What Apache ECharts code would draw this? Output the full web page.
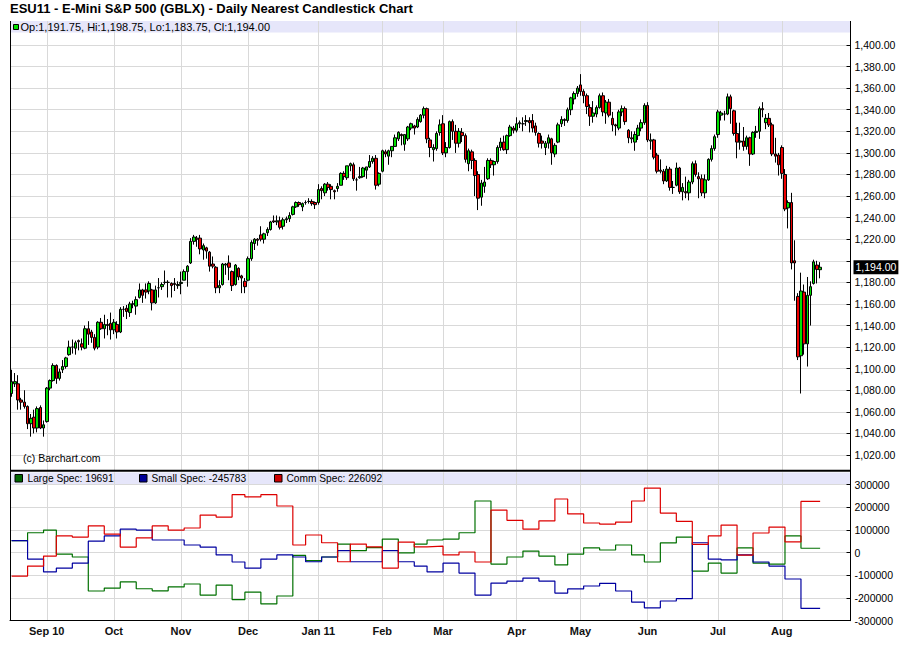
<!DOCTYPE html>
<html>
<head>
<meta charset="utf-8">
<title>ESU11 - E-Mini S&amp;P 500 (GBLX)</title>
<script src="https://cdn.jsdelivr.net/npm/echarts/dist/echarts.min.js"></script>
<style>
  html, body { margin: 0; padding: 0; background: #fff; }
  #chart { width: 900px; height: 662px; }
</style>
</head>
<body>
<div id="chart"></div>
<script>
  // ---- data ----
  var titleText = 'ESU11 - E-Mini S&P 500 (GBLX) - Daily Nearest Candlestick Chart';
  var monthNames = ['Jan','Feb','Mar','Apr','May','Jun','Jul','Aug','Sep','Oct','Nov','Dec'];
  // exchange holidays inside the range
  var holidays = ['2010-09-06','2010-11-25','2010-12-24','2011-01-17','2011-02-21','2011-04-22','2011-05-30','2011-07-04'];
  var firstDay = '2010-08-17';
  var emptySlots = 9; // free room on the right of the last candle

  // daily candles [open, close, low, high]
  var ohlc = [
    // Aug 2010
    [1077,1088,1074,1099],[1086,1088,1083,1096],[1086,1071,1062,1094],[1071,1069,1062,1073],[1069,1065,1063,1080],
    [1065,1049,1044,1066],[1049,1054,1037,1058],[1055,1045,1040,1062],[1045,1063,1041,1065],[1064,1045,1044,1066],
    [1045,1048,1037,1052],
    // Sep
    [1051,1082,1050,1083],[1082,1089,1080,1090],[1089,1103,1088,1105],[1103,1091,1086,1104],[1091,1097,1089,1100],
    [1099,1102,1096,1108],[1102,1110,1100,1111],[1113,1120,1112,1126],[1120,1120,1114,1127],[1119,1124,1113,1126],
    [1126,1125,1117,1127],[1123,1120,1117,1128],[1119,1137,1118,1140],[1137,1132,1122,1144],[1134,1129,1124,1136],
    [1129,1119,1117,1132],[1120,1143,1118,1144],[1143,1137,1136,1147],[1137,1141,1128,1150],[1141,1140,1131,1146],
    [1142,1136,1127,1152],
    // Oct
    [1136,1143,1132,1146],[1141,1134,1128,1144],[1134,1155,1133,1157],[1155,1155,1148,1158],[1156,1153,1146,1159],
    [1152,1160,1148,1162],[1160,1160,1156,1163],[1158,1164,1150,1167],[1166,1173,1165,1179],[1173,1168,1161,1174],
    [1173,1171,1165,1179],[1172,1179,1169,1181],[1173,1161,1154,1174],[1161,1173,1160,1177],[1175,1175,1166,1184],
    [1176,1178,1173,1180],[1180,1180,1178,1191],[1180,1180,1166,1182],[1179,1177,1166,1180],[1179,1178,1172,1184],
    [1177,1178,1174,1181],
    // Nov
    [1179,1180,1169,1190],[1182,1190,1182,1192],[1190,1195,1176,1196],[1198,1218,1197,1221],[1218,1222,1215,1224],
    [1221,1220,1213,1223],[1221,1211,1206,1224],[1210,1214,1201,1216],[1212,1209,1202,1213],[1208,1195,1190,1209],
    [1197,1195,1193,1204],[1194,1175,1170,1195],[1175,1177,1170,1182],[1178,1197,1177,1198],[1196,1197,1187,1198],
    [1198,1194,1182,1205],[1190,1177,1172,1191],[1178,1196,1177,1197],[1193,1185,1182,1194],[1186,1184,1170,1187],
    [1181,1176,1170,1184],
    // Dec
    [1182,1202,1181,1204],[1202,1217,1200,1219],[1216,1220,1210,1221],[1220,1219,1214,1221],[1224,1220,1218,1232],
    [1220,1225,1216,1226],[1226,1229,1223,1231],[1229,1236,1228,1237],[1237,1236,1235,1242],[1236,1237,1233,1242],
    [1237,1231,1229,1241],[1232,1238,1229,1240],[1238,1239,1235,1241],[1239,1242,1236,1245],[1243,1250,1242,1251],
    [1250,1254,1249,1255],[1254,1252,1250,1255],[1250,1253,1246,1254],[1254,1254,1252,1256],[1255,1255,1253,1258],
    [1255,1253,1251,1257],[1254,1252,1248,1255],
    // Jan 2011
    [1254,1266,1252,1271],[1267,1265,1257,1269],[1263,1271,1260,1272],[1271,1268,1265,1273],[1269,1266,1257,1271],
    [1265,1264,1257,1266],[1267,1269,1264,1272],[1270,1281,1270,1282],[1281,1278,1275,1283],[1277,1288,1275,1288],
    [1288,1290,1283,1291],[1289,1276,1274,1291],[1275,1275,1265,1277],[1277,1278,1276,1287],[1278,1286,1277,1287],
    [1284,1287,1276,1287],[1287,1292,1286,1298],[1292,1295,1290,1297],[1295,1270,1266,1298],[1271,1281,1269,1282],
    // Feb
    [1283,1302,1282,1303],[1301,1299,1296,1303],[1297,1302,1289,1303],[1302,1306,1296,1306],[1306,1314,1306,1317],
    [1313,1319,1311,1320],[1317,1316,1307,1318],[1308,1317,1302,1317],[1313,1324,1311,1325],[1323,1327,1321,1328],
    [1325,1323,1317,1326],[1324,1331,1323,1333],[1329,1335,1328,1336],[1335,1341,1332,1343],[1341,1313,1309,1342],
    [1312,1305,1296,1314],[1303,1305,1292,1308],[1304,1318,1302,1320],[1319,1326,1316,1331],
    // Mar
    [1327,1300,1298,1335],[1300,1305,1296,1310],[1305,1329,1304,1330],[1329,1320,1312,1331],[1320,1309,1300,1326],
    [1309,1320,1305,1323],[1319,1316,1310,1323],[1316,1294,1291,1318],[1290,1302,1283,1304],[1301,1293,1285,1303],
    [1293,1279,1260,1295],[1280,1258,1247,1283],[1259,1272,1251,1275],[1269,1273,1263,1287],[1276,1293,1275,1295],
    [1293,1289,1286,1295],[1289,1292,1279,1293],[1292,1305,1290,1307],[1305,1310,1302,1314],[1310,1303,1302,1316],
    [1303,1316,1299,1317],[1316,1324,1315,1326],[1323,1321,1318,1325],
    // Apr
    [1321,1327,1319,1333],[1327,1328,1323,1330],[1327,1327,1320,1333],[1329,1330,1325,1335],[1330,1328,1319,1333],
    [1330,1323,1319,1336],[1325,1319,1316,1328],[1318,1309,1305,1319],[1311,1309,1304,1316],[1305,1309,1298,1311],
    [1309,1314,1304,1317],[1313,1300,1289,1314],[1299,1307,1296,1309],[1310,1326,1309,1328],[1327,1331,1324,1334],
    [1331,1330,1325,1332],[1330,1340,1328,1342],[1340,1351,1335,1352],[1350,1355,1345,1357],[1355,1360,1352,1362],
    // May
    [1363,1357,1353,1373],[1357,1353,1346,1359],[1353,1343,1336,1355],[1342,1334,1325,1345],[1334,1337,1328,1348],
    [1336,1342,1333,1344],[1342,1353,1341,1355],[1353,1338,1334,1356],[1337,1347,1327,1349],[1347,1335,1333,1350],
    [1332,1326,1320,1338],[1326,1325,1316,1327],[1323,1338,1321,1340],[1338,1341,1334,1344],[1341,1329,1326,1343],
    [1321,1314,1309,1322],[1314,1313,1309,1320],[1310,1317,1302,1320],[1316,1323,1312,1326],[1323,1328,1320,1331],
    [1328,1344,1326,1346],
    // Jun
    [1344,1312,1310,1347],[1311,1312,1303,1318],[1312,1296,1294,1313],[1298,1283,1281,1300],[1284,1283,1281,1294],
    [1283,1274,1271,1285],[1274,1285,1273,1288],[1285,1268,1265,1287],[1268,1268,1262,1274],[1270,1286,1269,1291],
    [1286,1264,1262,1287],[1264,1268,1256,1272],[1264,1263,1258,1278],[1263,1273,1256,1275],[1273,1290,1271,1292],
    [1290,1280,1278,1293],[1278,1276,1258,1282],[1276,1263,1260,1280],[1263,1275,1258,1280],[1275,1294,1274,1295],
    [1294,1304,1292,1307],[1304,1315,1302,1317],
    // Jul
    [1317,1338,1314,1340],[1335,1337,1330,1339],[1336,1336,1330,1339],[1336,1352,1335,1355],[1352,1341,1327,1354],
    [1339,1318,1316,1340],[1318,1310,1295,1328],[1310,1311,1303,1328],[1311,1306,1302,1324],[1306,1314,1303,1316],
    [1314,1299,1288,1315],[1299,1319,1298,1320],[1319,1320,1314,1325],[1320,1341,1313,1343],[1341,1340,1333,1347],
    [1328,1332,1322,1336],[1332,1326,1324,1337],[1326,1299,1297,1328],[1299,1297,1291,1314],[1298,1289,1279,1300],
    // Aug
    [1305,1281,1276,1307],[1280,1248,1246,1285],[1249,1254,1230,1256],[1254,1198,1192,1263],[1200,1198,1163,1219],
    [1167,1111,1108,1170],[1112,1172,1077,1189],[1171,1123,1113,1178],[1123,1168,1102,1185],[1168,1176,1140,1181],
    [1179,1199,1178,1201],[1196,1192,1179,1200],[1191.75,1194,1183.75,1198.75]
  ];

  // weekly commitment of traders (net positions), as-of Tuesdays
  var cotWeeks = [
    '2010-08-17','2010-08-24','2010-08-31','2010-09-07','2010-09-14','2010-09-21','2010-09-28','2010-10-05',
    '2010-10-12','2010-10-19','2010-10-26','2010-11-02','2010-11-09','2010-11-16','2010-11-23','2010-11-30',
    '2010-12-07','2010-12-14','2010-12-21','2010-12-28','2011-01-04','2011-01-11','2011-01-18','2011-01-25',
    '2011-02-01','2011-02-08','2011-02-15','2011-02-22','2011-03-01','2011-03-08','2011-03-15','2011-03-22',
    '2011-03-29','2011-04-05','2011-04-12','2011-04-19','2011-04-26','2011-05-03','2011-05-10','2011-05-17',
    '2011-05-24','2011-05-31','2011-06-07','2011-06-14','2011-06-21','2011-06-28','2011-07-05','2011-07-12',
    '2011-07-19','2011-07-26','2011-08-02','2011-08-09'
  ];
  var largeSpec = [
    53000,88000,100000,-6000,-19000,-169000,-156000,-129000,-159000,-168000,-151000,-138000,-187000,-143000,
    -207000,-174000,-226000,-191000,-12000,-35000,-19000,38000,9000,22000,60000,-1000,38000,56000,60000,
    88000,228000,-50000,-19000,7000,-15000,-54000,-6000,21000,12000,34000,-10000,-41000,43000,69000,
    -81000,-46000,-90000,21000,-46000,-50000,74000,19691
  ];
  var smallSpec = [
    53000,-28000,-85000,-68000,-46000,51000,74000,104000,100000,56000,56000,34000,25000,-10000,
    -41000,-68000,-28000,-10000,-19000,-40000,-19000,9000,-40000,-40000,9000,-40000,-59000,-85000,-46000,
    -90000,-187000,-134000,-125000,-112000,-125000,-178000,-160000,-147000,-135000,-169000,-218000,-243000,-213000,-203000,
    44000,-28000,-32000,-10000,-41000,-59000,-116000,-245783
  ];
  var commSpec = [
    -103000,-59000,-15000,74000,69000,118000,82000,25000,65000,118000,100000,109000,166000,157000,
    256000,246000,256000,206000,34000,78000,44000,-40000,38000,26000,-68000,47000,26000,29000,-10000,
    3000,-41000,188000,143000,104000,140000,237000,171000,131000,126000,135000,228000,285000,175000,138000,
    37000,74000,122000,-11000,87000,113000,48000,226092
  ];

  // ---- trading calendar ----
  function ymd(d) { return d.toISOString().slice(0, 10); }
  var dates = [];
  var day = new Date(firstDay + 'T00:00:00Z');
  while (dates.length < ohlc.length + emptySlots) {
    var wd = day.getUTCDay();
    var s = ymd(day);
    if (wd !== 0 && wd !== 6 && holidays.indexOf(s) < 0) dates.push(s);
    day.setUTCDate(day.getUTCDate() + 1);
  }
  var lastDate = dates[ohlc.length - 1];
  function isMonthStart(i) { return i > 0 && dates[i].slice(5, 7) !== dates[i - 1].slice(5, 7); }
  var firstMonthIdx = 1;
  while (!isMonthStart(firstMonthIdx)) firstMonthIdx++;

  function fmt2(v) { return v.toFixed(2).replace(/\B(?=(\d{3})+(?!\d))/g, ','); }

  var last = ohlc[ohlc.length - 1];
  var lastClose = last[1];

  function stepData(values) {
    var out = cotWeeks.map(function (d, i) { return [dates.indexOf(d), values[i]]; });
    out.push([dates.indexOf(lastDate), values[values.length - 1]]);
    return out;
  }

  // ---- layout ----
  var L = 10, R = 49.5;            // plot left / right gap
  var FONT = '"Liberation Sans", Arial, Helvetica, sans-serif';
  var GRID_C = '#d9d9d9';
  var BAND_C = '#e6e6fa';
  var UP_C = '#00e000', DOWN_C = '#ee0000';
  var LARGE_C = '#007000', SMALL_C = '#0000a0', COMM_C = '#dd0000';

  function frameAxis(gi) {
    return {
      type: 'category', gridIndex: gi, data: dates, boundaryGap: true,
      axisLine: { show: false }, axisTick: { show: false }, axisLabel: { show: false },
      splitLine: {
        show: true, alignWithLabel: true,
        interval: function (i) { return isMonthStart(i); },
        lineStyle: { color: GRID_C, width: 1 }
      }
    };
  }

  var myChart = echarts.init(document.getElementById('chart'), null, { renderer: 'svg' });
  var option = {
    animation: false,
    backgroundColor: '#fff',
    textStyle: { fontFamily: FONT },
    grid: [
      { left: L, right: R, top: 45, bottom: 662 - 455, outerBoundsMode: 'none' },
      { left: L, right: R, top: 484.7, bottom: 662 - 620.7, outerBoundsMode: 'none' },
      { left: L, right: R, top: 21, bottom: 662 - 470, outerBoundsMode: 'none' },
      { left: L, right: R, top: 472.5, bottom: 662 - 620.7, outerBoundsMode: 'none' }
    ],
    xAxis: [
      {
        type: 'category', gridIndex: 0, data: dates, boundaryGap: true,
        axisLine: { show: false }, axisTick: { show: false }, axisLabel: { show: false }, splitLine: { show: false }
      },
      {
        type: 'category', gridIndex: 1, data: dates, boundaryGap: true,
        axisLine: { show: true, onZero: false, lineStyle: { color: '#000', width: 1 } },
        axisTick: { show: false },
        splitLine: { show: false },
        axisLabel: {
          show: true, margin: 5, color: '#111', fontSize: 11, fontWeight: 'bold', fontFamily: FONT,
          interval: function (i) { return isMonthStart(i); },
          formatter: function (val, i) {
            var m = +val.slice(5, 7) - 1;
            return (m === 0 || i === firstMonthIdx) ? monthNames[m] + ' ' + val.slice(2, 4) : monthNames[m];
          }
        }
      },
      frameAxis(2),
      frameAxis(3)
    ],
    yAxis: [
      {
        type: 'value', gridIndex: 0, position: 'right', min: 1020, max: 1400, interval: 20,
        axisLine: { show: true, lineStyle: { color: '#000' } },
        axisTick: { show: true, inside: true, length: 4, lineStyle: { color: '#000' } },
        axisLabel: {
          color: '#000', fontSize: 10.5, margin: 4, fontFamily: FONT,
          formatter: function (v) { return Math.abs(v - lastClose) < 10 ? '' : fmt2(v); }
        },
        splitLine: { show: true, lineStyle: { color: GRID_C, width: 1 } }
      },
      {
        type: 'value', gridIndex: 1, position: 'right', min: -300000, max: 300000, interval: 100000,
        axisLine: { show: true, lineStyle: { color: '#000' } },
        axisTick: { show: true, inside: true, length: 4, lineStyle: { color: '#000' } },
        axisLabel: { color: '#000', fontSize: 10.5, margin: 4, fontFamily: FONT, formatter: function (v) { return String(v); } },
        splitLine: { show: true, lineStyle: { color: GRID_C, width: 1 } }
      },
      { type: 'value', gridIndex: 2, show: false },
      { type: 'value', gridIndex: 3, show: false }
    ],
    series: [
      {
        name: 'ESU11', type: 'candlestick', xAxisIndex: 0, yAxisIndex: 0,
        data: ohlc, barWidth: 3, clip: false,
        itemStyle: {
          color: UP_C, color0: DOWN_C,
          borderColor: '#000', borderColor0: '#000', borderColorDoji: '#000', borderWidth: 1
        },
        markLine: {
          silent: true, symbol: ['none', 'none'],
          lineStyle: { color: 'rgba(0,0,0,0)', width: 1, type: 'solid' },
          data: [{ yAxis: lastClose }],
          label: {
            show: true, position: 'end', distance: 3,
            formatter: fmt2(lastClose),
            color: '#fff', backgroundColor: '#000', padding: [2, 2, 1, 2],
            fontSize: 10.5, fontFamily: FONT
          }
        }
      },
      {
        name: 'Large Spec', type: 'line', xAxisIndex: 1, yAxisIndex: 1, step: 'end',
        showSymbol: false, symbol: 'none', data: stepData(largeSpec),
        lineStyle: { color: LARGE_C, width: 1.2 }, itemStyle: { color: LARGE_C }
      },
      {
        name: 'Small Spec', type: 'line', xAxisIndex: 1, yAxisIndex: 1, step: 'end',
        showSymbol: false, symbol: 'none', data: stepData(smallSpec),
        lineStyle: { color: SMALL_C, width: 1.2 }, itemStyle: { color: SMALL_C }
      },
      {
        name: 'Comm Spec', type: 'line', xAxisIndex: 1, yAxisIndex: 1, step: 'end',
        showSymbol: false, symbol: 'none', data: stepData(commSpec),
        lineStyle: { color: COMM_C, width: 1.2 }, itemStyle: { color: COMM_C }
      }
    ],
    graphic: [
      // header bands
      { type: 'rect', z: -10, silent: true, shape: { x: L, y: 21, width: 900 - R - L, height: 11.5 }, style: { fill: BAND_C } },
      { type: 'rect', z: -10, silent: true, shape: { x: L, y: 472.5, width: 900 - R - L, height: 12 }, style: { fill: BAND_C } },
      // frame
      { type: 'line', z: 5, silent: true, shape: { x1: L + 0.5, y1: 21, x2: L + 0.5, y2: 621 }, style: { stroke: '#000', lineWidth: 1 } },
      { type: 'line', z: 5, silent: true, shape: { x1: 900 - R, y1: 21, x2: 900 - R, y2: 621 }, style: { stroke: '#000', lineWidth: 1 } },
      { type: 'line', z: 5, silent: true, shape: { x1: L, y1: 470.8, x2: 900 - R + 0.5, y2: 470.8 }, style: { stroke: '#000', lineWidth: 2 } },
      // title
      { type: 'text', z: 6, silent: true, style: { text: titleText, x: 10, y: 8.5, fill: '#000', font: 'bold 13px ' + FONT, textVerticalAlign: 'middle' } },
      // price legend
      { type: 'rect', z: 6, silent: true, shape: { x: 13.5, y: 24.5, width: 5, height: 5 }, style: { fill: UP_C, stroke: '#000', lineWidth: 1 } },
      {
        type: 'text', z: 6, silent: true,
        style: {
          text: 'Op:' + fmt2(last[0]) + ', Hi:' + fmt2(last[3]) + ', Lo:' + fmt2(last[2]) + ', Cl:' + fmt2(last[1]),
          x: 20.5, y: 27, fill: '#000', font: '11px ' + FONT, textVerticalAlign: 'middle'
        }
      },
      { type: 'text', z: 6, silent: true, style: { text: '(c) Barchart.com', x: 23, y: 457.5, fill: '#000', font: '10.5px ' + FONT, textVerticalAlign: 'middle' } },
      // COT legend
      { type: 'rect', z: 6, silent: true, shape: { x: 15, y: 474.5, width: 7.5, height: 7.5 }, style: { fill: '#006600', stroke: '#000', lineWidth: 1 } },
      { type: 'text', z: 6, silent: true, style: { text: 'Large Spec: ' + largeSpec[largeSpec.length - 1], x: 27.5, y: 478.5, fill: '#000', font: '10.2px ' + FONT, textVerticalAlign: 'middle' } },
      { type: 'rect', z: 6, silent: true, shape: { x: 139.5, y: 474.5, width: 7.5, height: 7.5 }, style: { fill: '#000099', stroke: '#000', lineWidth: 1 } },
      { type: 'text', z: 6, silent: true, style: { text: 'Small Spec: ' + smallSpec[smallSpec.length - 1], x: 151.5, y: 478.5, fill: '#000', font: '10.2px ' + FONT, textVerticalAlign: 'middle' } },
      { type: 'rect', z: 6, silent: true, shape: { x: 274.5, y: 474.5, width: 7.5, height: 7.5 }, style: { fill: '#cc0000', stroke: '#000', lineWidth: 1 } },
      { type: 'text', z: 6, silent: true, style: { text: 'Comm Spec: ' + commSpec[commSpec.length - 1], x: 286.5, y: 478.5, fill: '#000', font: '10.2px ' + FONT, textVerticalAlign: 'middle' } }
    ]
  };
  myChart.setOption(option);
  //窗口变动，图表刷新
  window.addEventListener('resize', function () { myChart.resize(); });
</script>
</body>
</html>
